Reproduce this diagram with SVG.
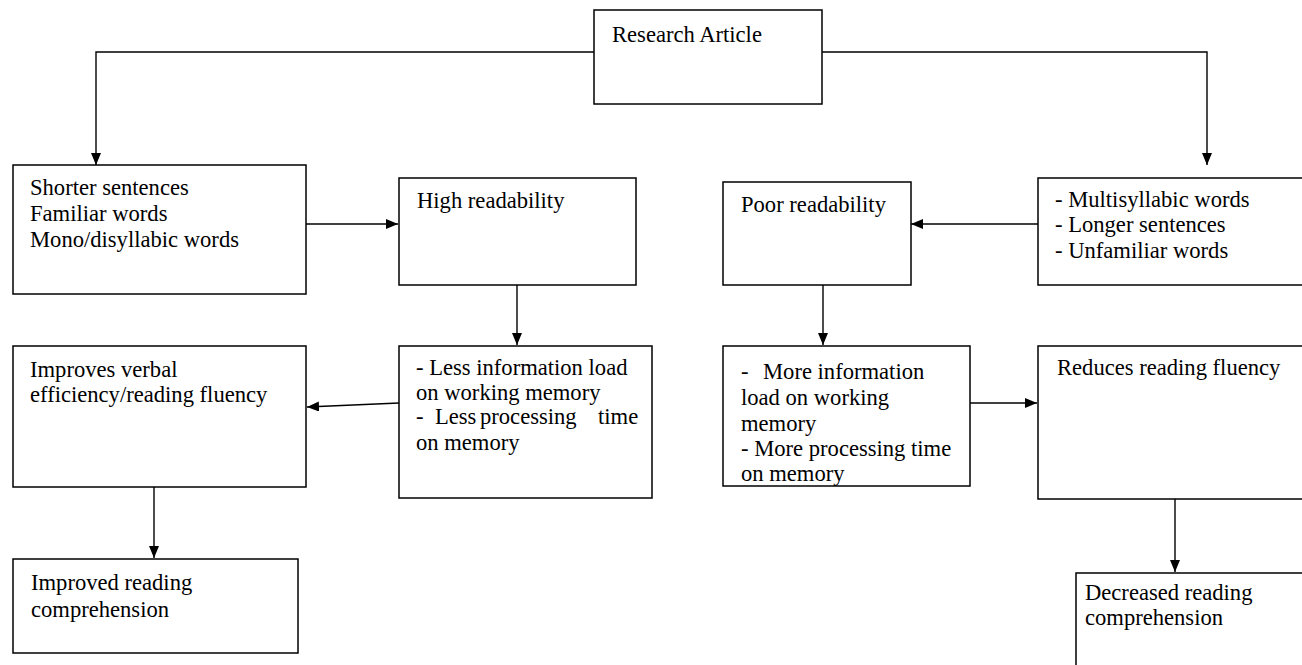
<svg xmlns="http://www.w3.org/2000/svg" width="1302" height="665" viewBox="0 0 1302 665">
<style>
.box{fill:#fff;stroke:#000;stroke-width:1.5}
.t{font-family:"Liberation Serif","Times New Roman",serif;font-size:22.6px;fill:#000}
.c{fill:none;stroke:#000;stroke-width:1.4}
</style>
<defs>
<marker id="ah" markerUnits="userSpaceOnUse" markerWidth="14" markerHeight="12" refX="12" refY="5" orient="auto">
<path d="M0,0 L12,5 L0,10 Z" fill="#000"/>
</marker>
</defs>
<rect width="1302" height="665" fill="#fff"/>
<g id="connectors">
<path class="c" d="M594,52 H96 V165" marker-end="url(#ah)"/>
<path class="c" d="M822,52 H1207 V165" marker-end="url(#ah)"/>
<path class="c" d="M304,224 H398" marker-end="url(#ah)"/>
<path class="c" d="M1038,224 H911" marker-end="url(#ah)"/>
<path class="c" d="M517,285 V345" marker-end="url(#ah)"/>
<path class="c" d="M823,285 V345" marker-end="url(#ah)"/>
<path class="c" d="M399,403 L307,407" marker-end="url(#ah)"/>
<path class="c" d="M970,403 H1037" marker-end="url(#ah)"/>
<path class="c" d="M154,487 V558" marker-end="url(#ah)"/>
<path class="c" d="M1175,499 V572" marker-end="url(#ah)"/>
</g>
<g id="research">
<rect class="box" x="594" y="10" width="228" height="94"/>
<text class="t" x="612" y="42">Research Article</text>
</g>
<g id="shorter">
<rect class="box" x="13" y="165" width="293" height="129"/>
<text class="t" x="30" y="195">Shorter sentences</text>
<text class="t" x="30" y="221">Familiar words</text>
<text class="t" x="30" y="247">Mono/disyllabic words</text>
</g>
<g id="high">
<rect class="box" x="399" y="178" width="237" height="107"/>
<text class="t" x="417" y="208">High readability</text>
</g>
<g id="poor">
<rect class="box" x="723" y="182" width="188" height="103"/>
<text class="t" x="741" y="212">Poor readability</text>
</g>
<g id="multi">
<rect class="box" x="1038" y="178" width="280" height="107"/>
<text class="t" x="1055" y="207">- Multisyllabic words</text>
<text class="t" x="1055" y="232">- Longer sentences</text>
<text class="t" x="1055" y="258">- Unfamiliar words</text>
</g>
<g id="improves">
<rect class="box" x="13" y="346" width="293" height="141"/>
<text class="t" x="30" y="377">Improves verbal</text>
<text class="t" x="30" y="402">efficiency/reading fluency</text>
</g>
<g id="less">
<rect class="box" x="399" y="346" width="253" height="152"/>
<text class="t" x="416" y="375">- Less information load</text>
<text class="t" x="416" y="400">on working memory</text>
<text class="t" y="424"><tspan x="416">-</tspan><tspan x="435">Less</tspan><tspan x="480">processing</tspan><tspan x="598">time</tspan></text>
<text class="t" x="416" y="450">on memory</text>
</g>
<g id="more">
<rect class="box" x="723" y="346" width="247" height="140"/>
<text class="t" y="379"><tspan x="741">-</tspan><tspan x="763">More information</tspan></text>
<text class="t" x="741" y="405">load on working</text>
<text class="t" x="741" y="431">memory</text>
<text class="t" x="741" y="456">- More processing time</text>
<text class="t" x="741" y="481">on memory</text>
</g>
<g id="reduces">
<rect class="box" x="1038" y="346" width="280" height="153"/>
<text class="t" x="1057" y="375">Reduces reading fluency</text>
</g>
<g id="improved">
<rect class="box" x="13" y="559" width="285" height="94"/>
<text class="t" x="31" y="590">Improved reading</text>
<text class="t" x="31" y="617">comprehension</text>
</g>
<g id="decreased">
<rect class="box" x="1076" y="573" width="260" height="120"/>
<text class="t" x="1085" y="600">Decreased reading</text>
<text class="t" x="1085" y="625">comprehension</text>
</g>
</svg>
